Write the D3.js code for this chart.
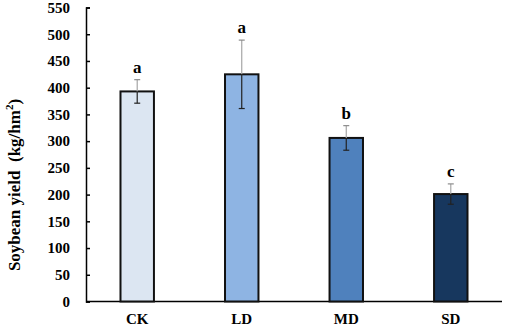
<html>
<head>
<meta charset="utf-8">
<style>
  body { margin: 0; background: #fff; }
  svg { font-family: "Liberation Serif", "Times New Roman", serif; font-weight: bold; }
  .axis path, .axis line { stroke: #000; stroke-width: 1.5; }
  .axis text { font-size: 15px; fill: #000; font-family: "Liberation Serif", serif; font-weight: bold; }
</style>
</head>
<body>
<svg width="505" height="328"></svg>
<script src="https://cdn.jsdelivr.net/npm/d3@7"></script>
<script>
  // data
  var categories = ["CK", "LD", "MD", "SD"];
  var yields = [393, 425, 306, 201];
  var errors = [22, 64, 23, 19];
  var letters = ["a", "a", "b", "c"];
  var colors = ["#dce6f2", "#8eb4e3", "#4f81bd", "#17375e"];
  var yTicks = d3.range(0, 551, 50);

  var svg = d3.select("svg");

  var x = d3.scaleBand()
    .domain(categories)
    .range([86, 502])
    .paddingInner(0.68)
    .paddingOuter(0.33);

  var y = d3.scaleLinear()
    .domain([0, 550])
    .range([301.5, 7.5]);

  // y axis, ticks point inward
  var gy = svg.append("g")
    .attr("class", "axis")
    .attr("transform", "translate(86,0)")
    .call(d3.axisLeft(y).tickValues(yTicks).tickSizeInner(-4).tickSizeOuter(-4).tickPadding(16));

  // x axis, no ticks
  var gx = svg.append("g")
    .attr("class", "axis")
    .attr("transform", "translate(0,301.5)")
    .call(d3.axisBottom(x).tickSize(0).tickPadding(12));
  gx.select(".domain").attr("d", "M86,0H502");

  var g = svg.selectAll(".bar")
    .data(categories)
    .enter().append("g")
    .attr("class", "bar");

  g.append("rect")
    .attr("x", function(d) { return x(d); })
    .attr("width", x.bandwidth())
    .attr("y", function(d, i) { return y(yields[i]); })
    .attr("height", function(d, i) { return y(0) - y(yields[i]); })
    .attr("fill", function(d, i) { return colors[i]; })
    .attr("stroke", "#111")
    .attr("stroke-width", 2);

  var cx = function(d) { return x(d) + x.bandwidth() / 2; };

  // upper whisker (grey) and lower whisker (dark)
  g.append("line")
    .attr("x1", cx).attr("x2", cx)
    .attr("y1", function(d, i) { return y(yields[i] + errors[i]); })
    .attr("y2", function(d, i) { return y(yields[i]); })
    .attr("stroke", "#a6a6a6").attr("stroke-width", 1.2);
  g.append("line")
    .attr("x1", function(d) { return cx(d) - 3; }).attr("x2", function(d) { return cx(d) + 3; })
    .attr("y1", function(d, i) { return y(yields[i] + errors[i]); })
    .attr("y2", function(d, i) { return y(yields[i] + errors[i]); })
    .attr("stroke", "#8c8c8c").attr("stroke-width", 1.2);
  g.append("line")
    .attr("x1", cx).attr("x2", cx)
    .attr("y1", function(d, i) { return y(yields[i]); })
    .attr("y2", function(d, i) { return y(yields[i] - errors[i]); })
    .attr("stroke", "#222").attr("stroke-width", 1.2);
  g.append("line")
    .attr("x1", function(d) { return cx(d) - 3; }).attr("x2", function(d) { return cx(d) + 3; })
    .attr("y1", function(d, i) { return y(yields[i] - errors[i]); })
    .attr("y2", function(d, i) { return y(yields[i] - errors[i]); })
    .attr("stroke", "#222").attr("stroke-width", 1.2);

  g.append("text")
    .attr("x", cx)
    .attr("y", function(d, i) { return y(yields[i] + errors[i]) - 7; })
    .attr("text-anchor", "middle")
    .attr("font-size", 17)
    .text(function(d, i) { return letters[i]; });

  // y label
  var label = svg.append("text")
    .attr("transform", "translate(20,185) rotate(-90)")
    .attr("text-anchor", "middle")
    .attr("font-size", 17);
  label.append("tspan").text("Soybean yield\u00a0\u00a0(kg/hm");
  label.append("tspan").attr("font-size", 11).attr("dy", -7).text("2");
  label.append("tspan").attr("dy", 7).text(")");
</script>
</body>
</html>
